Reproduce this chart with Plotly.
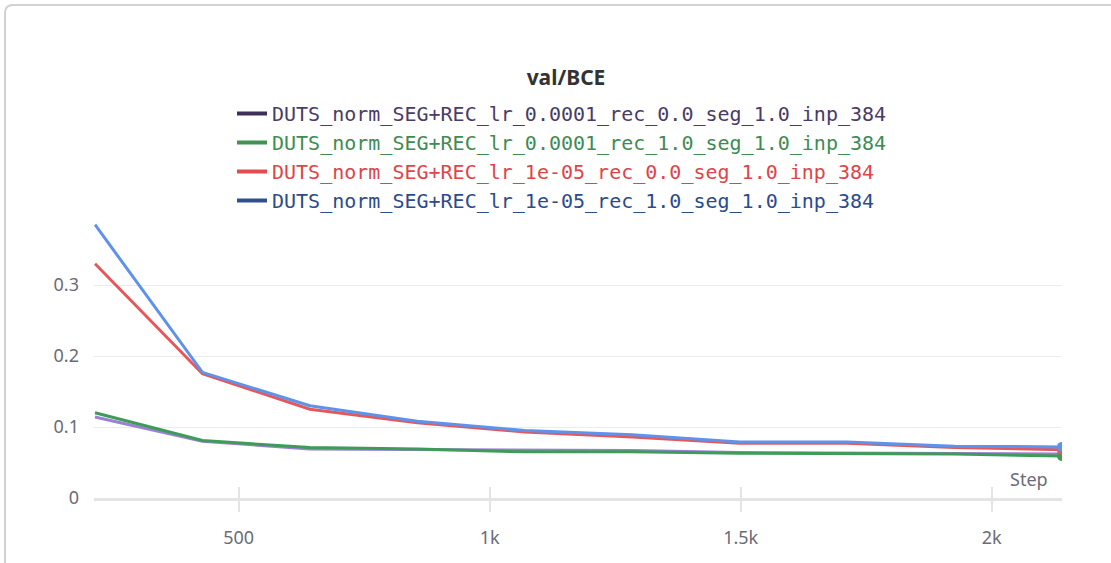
import plotly.graph_objects as go

# validation BCE logged once per epoch
steps = [214, 428, 642, 856, 1070, 1284, 1498, 1712, 1926, 2140]

run_names = [
    "DUTS_norm_SEG+REC_lr_0.0001_rec_0.0_seg_1.0_inp_384",
    "DUTS_norm_SEG+REC_lr_0.0001_rec_1.0_seg_1.0_inp_384",
    "DUTS_norm_SEG+REC_lr_1e-05_rec_0.0_seg_1.0_inp_384",
    "DUTS_norm_SEG+REC_lr_1e-05_rec_1.0_seg_1.0_inp_384",
]

bce_lr1e4_rec0 = [0.114, 0.080, 0.069, 0.068, 0.068, 0.067, 0.064, 0.063, 0.063, 0.062]
bce_lr1e4_rec1 = [0.120, 0.081, 0.071, 0.069, 0.065, 0.065, 0.063, 0.063, 0.062, 0.059]
bce_lr1e5_rec0 = [0.330, 0.175, 0.125, 0.106, 0.093, 0.086, 0.077, 0.077, 0.071, 0.068]
bce_lr1e5_rec1 = [0.385, 0.177, 0.130, 0.108, 0.095, 0.089, 0.079, 0.079, 0.073, 0.072]

series = [bce_lr1e4_rec0, bce_lr1e4_rec1, bce_lr1e5_rec0, bce_lr1e5_rec1]
line_colors = ["#9a80d6", "#3f9b58", "#e6575a", "#5f92ea"]
legend_colors = ["#3d2f5c", "#3f9455", "#e34c4f", "#2f5090"]
text_colors = ["#4a3b68", "#3d8c52", "#df4448", "#2c4b8c"]

x_tickvals = [500, 1000, 1500, 2000]
x_ticktext = ["500", "1k", "1.5k", "2k"]
y_tickvals = [0, 0.1, 0.2, 0.3]
y_ticktext = ["0", "0.1", "0.2", "0.3"]

fig = go.Figure()

for vals, col in zip(series, line_colors):
    fig.add_trace(go.Scatter(
        x=steps, y=vals, mode="lines",
        line=dict(color=col, width=3),
        showlegend=False, hoverinfo="skip",
    ))
for vals, col in zip(series, line_colors):
    fig.add_trace(go.Scatter(
        x=steps[-1:], y=vals[-1:], mode="markers",
        marker=dict(color=col, size=10),
        showlegend=False, hoverinfo="skip",
    ))

# legend entries
for name, lcol, tcol in zip(run_names, legend_colors, text_colors):
    fig.add_trace(go.Scatter(
        x=[None], y=[None], mode="lines",
        line=dict(color=lcol, width=4),
        name=f'<span style="color:{tcol}">{name}</span>',
    ))

# secondary axis carries the upward half of the tick marks
fig.add_trace(go.Scatter(x=[None], y=[None], xaxis="x2", showlegend=False))

W, H = 1111, 563
ml, mr, mt, mb = 94, 49, 214, 65
pw, ph = W - ml - mr, H - mt - mb


def px(xp):
    return (xp - ml) / pw


def py(yp):
    return (H - mb - yp) / ph


x0, yt = px(5), py(5)
xr, yb = px(1130), py(600)
rx, ry = 8 / pw, 8 / ph
panel = (f"M{x0},{yb} L{x0},{yt - ry} Q{x0},{yt} {x0 + rx},{yt} L{xr},{yt}")

axis_font = dict(family="Noto Sans", size=18, color="#6b6b76")

fig.update_layout(
    width=W, height=H,
    margin=dict(l=ml, r=mr, t=mt, b=mb),
    paper_bgcolor="white", plot_bgcolor="white",
    title=dict(
        text="<b>val/BCE</b>", x=566 / W, xref="container", xanchor="center",
        y=1 - 78 / H, yanchor="middle",
        font=dict(family="Noto Sans", size=21, color="#333333"),
    ),
    legend=dict(
        x=px(232), xanchor="left", y=py(94), yanchor="top",
        orientation="v", bgcolor="rgba(0,0,0,0)",
        font=dict(family="DejaVu Sans Mono", size=20),
        itemwidth=30, tracegroupgap=0,
    ),
    xaxis=dict(
        range=[212, 2140], showgrid=False, zeroline=False,
        showline=True, linecolor="#e4e4e4", linewidth=3,
        tickvals=x_tickvals, ticktext=x_ticktext,
        ticks="outside", ticklen=11, tickwidth=2, tickcolor="#e4e4e4",
        ticklabelstandoff=10, tickfont=axis_font,
    ),
    xaxis2=dict(
        overlaying="x", matches="x", anchor="y", side="bottom",
        showgrid=False, zeroline=False, showline=False,
        tickvals=x_tickvals, showticklabels=False,
        ticks="inside", ticklen=11, tickwidth=2, tickcolor="#e4e4e4",
    ),
    yaxis=dict(
        range=[0, 0.4], showgrid=True, gridcolor="#ececec", gridwidth=1,
        zeroline=False, showline=False,
        tickvals=y_tickvals, ticktext=y_ticktext,
        ticks="", ticklabelstandoff=14, tickfont=axis_font,
    ),
    annotations=[dict(
        text="Step", xref="paper", yref="paper",
        x=px(1050), y=py(479), xanchor="right", yanchor="middle",
        showarrow=False, font=axis_font,
    )],
    shapes=[dict(
        type="path", path=panel, xref="paper", yref="paper",
        line=dict(color="#d2d2d2", width=2), layer="below",
    )],
)

fig.write_html("out.html")
